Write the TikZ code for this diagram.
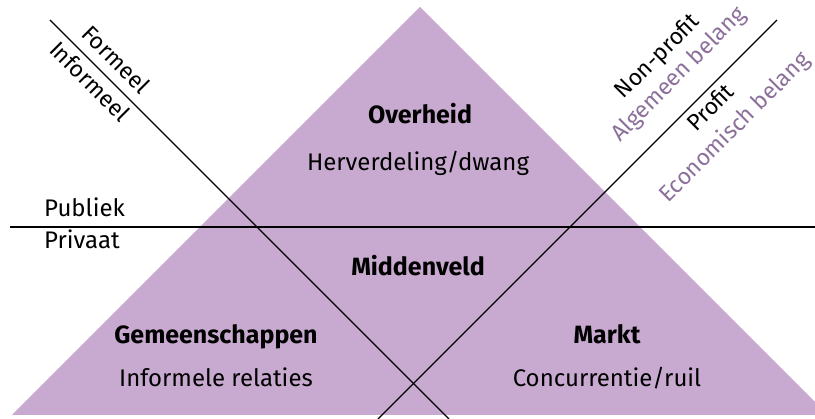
\documentclass[tikz,border=0pt]{standalone}
\usepackage{fontspec}
\setmainfont{Fira Sans}
\definecolor{tri}{RGB}{200,170,208}
\definecolor{sub}{RGB}{140,112,155}
\begin{document}
\begin{tikzpicture}[x=1pt,y=-1pt,
  lbl/.style={font=\fontsize{24}{28}\selectfont, inner sep=0pt},
  dlbl/.style={font=\fontsize{23}{27}\selectfont, inner sep=0pt},
  head/.style={font=\fontsize{25}{28}\selectfont\bfseries, inner sep=0pt, anchor=base},
  body/.style={font=\fontsize{24}{28}\selectfont, inner sep=0pt, anchor=base},
  divider/.style={line width=1.2pt, black}]
\useasboundingbox (0,0) rectangle (815,419);
\coordinate (apex) at (420,7);
\coordinate (bl) at (12,415);
\coordinate (br) at (828,415);
\begin{scope}
\clip (0,0) rectangle (815,419);
\fill[tri] (apex) -- (bl) -- (br) -- cycle;
\end{scope}
\coordinate (hL) at (10,227);
\coordinate (hR) at (815,227);
\coordinate (fA) at (50,20);
\coordinate (fB) at (449,419);
\coordinate (pA) at (378,419);
\coordinate (pB) at (777,20);
\draw[divider] (hL) -- (hR);
\draw[divider] (fA) -- (fB);
\draw[divider] (pA) -- (pB);
% horizontal labels
\node[lbl, anchor=base west] (publiek) at (44,217) {Publiek};
\node[lbl, anchor=base west] (privaat) at (44,249) {Privaat};
% diagonal labels
\node[dlbl, rotate=-45] (formeel) at (116,59) {Formeel};
\node[dlbl, rotate=-45] (informeel) at (90,81) {Informeel};
\node[dlbl, rotate=45] (nonprofit) at (658,57) {Non-profit};
\node[dlbl, rotate=45, text=sub] (algemeen) at (679,75) {Algemeen belang};
\node[dlbl, rotate=45] (profit) at (710,107) {Profit};
\node[dlbl, rotate=45, text=sub] (economisch) at (735,128) {Economisch belang};
% sector labels
\node[head] (overheid) at (420,124) {Overheid};
\node[body] (herverdeling) at (418,171) {Herverdeling/dwang};
\node[head] (middenveld) at (418,276) {Middenveld};
\node[head] (gemeenschappen) at (216,344) {Gemeenschappen};
\node[body] (informele) at (216,387) {Informele relaties};
\node[head] (markt) at (607,344) {Markt};
\node[body] (concurrentie) at (607,387) {Concurrentie/ruil};
\end{tikzpicture}
\end{document}
